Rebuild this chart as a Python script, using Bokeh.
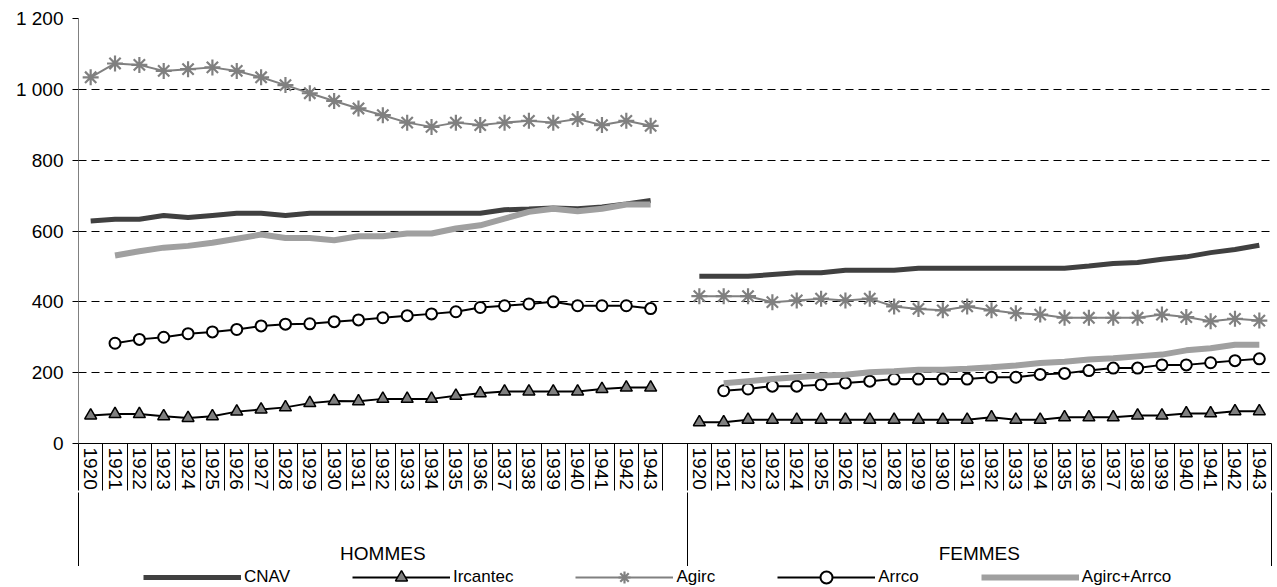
import numpy as np
from bokeh.plotting import figure
from bokeh.layouts import column
from bokeh.models import Range1d, FixedTicker, LinearAxis, Legend, LegendItem
from bokeh.embed import file_html
from bokeh.resources import INLINE

# ---------------- data ----------------
groups = ["HOMMES", "FEMMES"]
years = ["1920", "1921", "1922", "1923", "1924", "1925", "1926", "1927",
         "1928", "1929", "1930", "1931", "1932", "1933", "1934", "1935",
         "1936", "1937", "1938", "1939", "1940", "1941", "1942", "1943"]

cnav_h = [628, 633, 633, 644, 638, 644, 650, 650, 644, 650, 650, 650,
          650, 650, 650, 650, 650, 660, 662, 665, 663, 668, 676, 686]
ircantec_h = [79, 83, 83, 77, 72, 77, 90, 96, 102, 114, 120, 119,
              126, 126, 126, 135, 142, 147, 147, 147, 147, 154, 158, 158]
agirc_h = [1034, 1073, 1069, 1052, 1057, 1062, 1052, 1034, 1012, 989, 967, 946,
           927, 906, 894, 906, 899, 906, 911, 906, 916, 899, 911, 897]
arrco_h = [None, 283, 294, 300, 310, 315, 322, 332, 337, 338, 344, 349,
           355, 361, 366, 372, 384, 389, 394, 400, 389, 389, 389, 381]
agaa_h = [None, 531, 543, 553, 558, 567, 578, 590, 580, 580, 574, 585,
          585, 593, 593, 607, 616, 635, 654, 663, 656, 663, 675, 675]

cnav_f = [472, 472, 472, 477, 482, 482, 489, 489, 489, 495, 495, 495,
          495, 495, 495, 495, 501, 508, 511, 520, 527, 539, 548, 560]
ircantec_f = [60, 60, 67, 67, 67, 67, 67, 67, 67, 67, 67, 67,
              74, 67, 67, 74, 74, 74, 79, 79, 85, 85, 91, 91]
agirc_f = [416, 416, 416, 399, 404, 409, 404, 409, 387, 380, 376, 387,
           376, 368, 364, 355, 355, 355, 355, 364, 357, 345, 352, 347]
arrco_f = [None, 149, 154, 162, 162, 166, 171, 176, 182, 182, 182, 182,
           187, 187, 195, 198, 206, 213, 213, 222, 222, 228, 234, 239]
agaa_f = [None, 170, 176, 182, 187, 192, 194, 201, 204, 208, 208, 211,
          215, 220, 227, 231, 237, 241, 246, 251, 263, 269, 279, 279]

series_names = ["CNAV", "Ircantec", "Agirc", "Arrco", "Agirc+Arrco"]


def arr(v):
    return np.array([np.nan if a is None else a for a in v], dtype=float)


# series styles
ST = {
    "CNAV": dict(line=dict(line_color="#404040", line_width=5), marker=None),
    "Ircantec": dict(line=dict(line_color="black", line_width=2),
                     marker=dict(marker="triangle", size=12, fill_color="#808080",
                                 line_color="black", line_width=1.5)),
    "Agirc": dict(line=dict(line_color="#808080", line_width=2),
                  marker=dict(marker="asterisk", size=16, line_color="#808080",
                              line_width=2.2)),
    "Arrco": dict(line=dict(line_color="black", line_width=2),
                  marker=dict(marker="circle", size=11, fill_color="white",
                              line_color="black", line_width=2)),
    "Agirc+Arrco": dict(line=dict(line_color="#a0a0a0", line_width=6), marker=None),
}

# ---------------- layout of categories ----------------
n = len(years)
slots = 2 * n + 1          # one blank slot closes the first group
xh = [i + 0.5 for i in range(n)]
xf = [n + 1 + i + 0.5 for i in range(n)]

FONT = "Liberation Sans"
W = 1277

p = figure(width=W, height=566,
           x_range=Range1d(0, slots), y_range=Range1d(0, 1200),
           output_backend="svg", toolbar_location=None,
           min_border_left=78, min_border_right=6,
           min_border_top=18, min_border_bottom=123)
p.outline_line_color = None
p.xgrid.visible = False
p.ygrid.grid_line_color = "black"
p.ygrid.grid_line_dash = "8 5"
p.ygrid.grid_line_width = 1
p.ygrid.ticker = FixedTicker(ticks=[200, 400, 600, 800, 1000, 1200])

# y axis
p.yaxis.ticker = FixedTicker(ticks=[0, 200, 400, 600, 800, 1000, 1200])
p.yaxis.major_label_overrides = {1000: "1 000", 1200: "1 200"}
p.yaxis.axis_line_color = "#808080"
p.yaxis.major_tick_out = 6
p.yaxis.major_tick_in = 0
p.yaxis.major_tick_line_color = "black"
p.yaxis.minor_tick_line_color = None
p.yaxis.major_label_standoff = 9
p.yaxis.major_label_text_font = FONT
p.yaxis.major_label_text_font_size = "19px"
p.yaxis.major_label_text_color = "black"

# x axis: years in cells (cell borders drawn as outward minor ticks)
xa = p.xaxis[0]
xa.ticker = FixedTicker(ticks=xh + xf, minor_ticks=list(range(slots + 1)))
ov = {}
for x, y in zip(xh, years):
    ov[x] = y
for x, y in zip(xf, years):
    ov[x] = y
xa.major_label_overrides = ov
xa.major_label_orientation = "vertical"
xa.major_tick_out = 0
xa.major_tick_in = 0
xa.minor_tick_out = 0
xa.minor_tick_in = -47
xa.minor_tick_line_color = "black"
xa.axis_line_color = "black"
xa.major_label_standoff = 4
xa.major_label_text_font = FONT
xa.major_label_text_font_size = "19px"
xa.major_label_text_color = "black"

# group axis
gx = LinearAxis(ticker=FixedTicker(ticks=[(n + 1) / 2, n + 1 + n / 2],
                                   minor_ticks=[0, n + 1, slots]))
gx.major_label_overrides = {(n + 1) / 2: groups[0], n + 1 + n / 2: groups[1]}
gx.axis_line_color = None
gx.major_tick_line_color = None
gx.minor_tick_out = 0
gx.minor_tick_in = -80
gx.minor_tick_line_color = "black"
gx.major_label_standoff = 44
gx.major_label_text_font = FONT
gx.major_label_text_font_size = "19px"
gx.major_label_text_color = "black"
p.add_layout(gx, "below")

# ---------------- series ----------------
data = {
    "CNAV": (cnav_h, cnav_f),
    "Ircantec": (ircantec_h, ircantec_f),
    "Agirc": (agirc_h, agirc_f),
    "Arrco": (arrco_h, arrco_f),
    "Agirc+Arrco": (agaa_h, agaa_f),
}
for name in series_names:
    st = ST[name]
    for xs, v in zip((xh, xf), data[name]):
        p.line(xs, arr(v), **st["line"])
        if st["marker"] is not None:
            p.scatter(xs, arr(v), **st["marker"])

# ---------------- legend (separate strip below) ----------------
lg = figure(width=W, height=21, x_range=Range1d(0, 1), y_range=Range1d(0, 1),
            output_backend="svg", toolbar_location=None, min_border=0,
            x_axis_location=None, y_axis_location=None)
lg.grid.visible = False
lg.outline_line_color = None
items = []
for name in series_names:
    st = ST[name]
    # sample glyphs: kept outside the visible range, shown only in the legend
    rs = [lg.line([-3, -2], [0.5, 0.5], **st["line"])]
    if st["marker"] is not None:
        rs.append(lg.scatter([-3], [0.5], **st["marker"]))
    items.append(LegendItem(label=name, renderers=rs))

legend = Legend(items=items, orientation="horizontal", location=(65, -5))
legend.border_line_color = None
legend.background_fill_alpha = 0
legend.padding = 0
legend.margin = 0
legend.spacing = 62
legend.glyph_width = 98
legend.glyph_height = 30
legend.label_standoff = 3
legend.label_height = 30
legend.label_text_font = FONT
legend.label_text_font_size = "17px"
legend.label_text_color = "black"
lg.add_layout(legend, "center")

layout = column(p, lg, spacing=0)
open("out.html", "w").write(file_html(layout, INLINE))
